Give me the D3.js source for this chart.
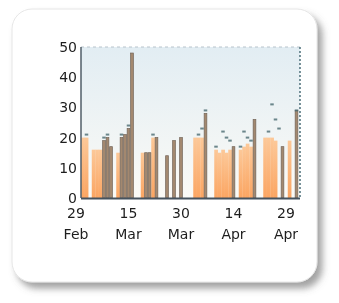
<!DOCTYPE html>
<html>
<head>
<meta charset="utf-8">
<script src="https://cdn.jsdelivr.net/npm/d3@7"></script>
<style>
  html, body { margin: 0; padding: 0; background: #fff; }
  svg { display: block; filter: blur(0.45px); }
  text { font-family: "DejaVu Sans", Verdana, sans-serif; fill: #1e1e1e; }
</style>
</head>
<body>
<div id="chart"></div>
<script>
/* data */
var orangeDays = ["2016-03-02","2016-03-03","2016-03-05","2016-03-06","2016-03-07","2016-03-12",
  "2016-03-19","2016-03-22","2016-04-03","2016-04-04","2016-04-05","2016-04-09","2016-04-10",
  "2016-04-11","2016-04-12","2016-04-13","2016-04-16","2016-04-17","2016-04-18","2016-04-19",
  "2016-04-23","2016-04-24","2016-04-25","2016-04-26","2016-04-30"];
var orangeVals = [20,20,16,16,16,15, 15,20,20,20,20,16,15, 16,15,16,16,17,18,17, 20,20,20,19,19];

var brownDays = ["2016-03-08","2016-03-09","2016-03-10","2016-03-13","2016-03-14","2016-03-15",
  "2016-03-16","2016-03-20","2016-03-21","2016-03-23","2016-03-26","2016-03-28","2016-03-30",
  "2016-04-06","2016-04-14","2016-04-20","2016-04-28","2016-05-02"];
var brownVals = [19,20,17,20,21,23, 48,15,15,20,14,19,20, 28,17,26,17,29];

var markDays = ["2016-03-03","2016-03-08","2016-03-09","2016-03-13","2016-03-15","2016-03-22",
  "2016-04-04","2016-04-05","2016-04-06","2016-04-09","2016-04-11","2016-04-12","2016-04-13",
  "2016-04-16","2016-04-17","2016-04-18","2016-04-19","2016-04-24","2016-04-25","2016-04-26",
  "2016-04-27","2016-05-02"];
var markVals = [21,20,21,21,24,21, 21,23,29,17,22,20,19, 17,22,20,19,22,31,26, 23,29];

var tickDates = ["2016-02-29","2016-03-15","2016-03-30","2016-04-14","2016-04-29"];
var yTicks = [0,10,20,30,40,50];

var W = 339, H = 303;
var plot = { left: 81, right: 300, top: 47, bottom: 198 };
var parse = d3.utcParse("%Y-%m-%d");
var DAY = 864e5;

var svg = d3.select("#chart").append("svg")
  .attr("width", W).attr("height", H);

var defs = svg.append("defs");
var sh = defs.append("filter").attr("id", "shadow")
  .attr("x", "-10%").attr("y", "-10%").attr("width", "130%").attr("height", "130%");
sh.append("feDropShadow").attr("dx", 5).attr("dy", 6).attr("stdDeviation", 3.5)
  .attr("flood-color", "#666").attr("flood-opacity", 0.6);

var bg = defs.append("linearGradient").attr("id", "bg").attr("x1", 0).attr("y1", 0).attr("x2", 0).attr("y2", 1);
bg.append("stop").attr("offset", "0%").attr("stop-color", "#e2edf3");
bg.append("stop").attr("offset", "100%").attr("stop-color", "#fbfaf6");

var og = defs.append("linearGradient").attr("id", "og").attr("x1", 0).attr("y1", 0).attr("x2", 0).attr("y2", 1);
og.append("stop").attr("offset", "0%").attr("stop-color", "#fcc898");
og.append("stop").attr("offset", "100%").attr("stop-color", "#fba562");

/* card */
svg.append("rect")
  .attr("x", 12).attr("y", 9).attr("width", 305).attr("height", 273)
  .attr("rx", 20)
  .attr("fill", "#fff")
  .attr("stroke", "#e6e6e6")
  .attr("filter", "url(#shadow)");

/* scales */
var x = d3.scaleUtc()
  .domain([parse("2016-02-29"), parse("2016-05-03")])
  .range([76, 300]);
var y = d3.scaleLinear().domain([0, 50]).range([plot.bottom, plot.top]);
var dayW = x(new Date(DAY)) - x(new Date(0));

/* plot background */
svg.append("rect")
  .attr("x", plot.left).attr("y", plot.top)
  .attr("width", plot.right - plot.left).attr("height", plot.bottom - plot.top)
  .attr("fill", "url(#bg)");

svg.append("line")
  .attr("x1", plot.left).attr("x2", plot.right)
  .attr("y1", y(50)).attr("y2", y(50))
  .attr("stroke", "#b8c4cc").attr("stroke-dasharray", "3,3");

/* bars */
var orange = orangeDays.map((d, i) => ({ date: parse(d), v: orangeVals[i] }));
var brown = brownDays.map((d, i) => ({ date: parse(d), v: brownVals[i] }));
var marks = markDays.map((d, i) => ({ date: parse(d), v: markVals[i] }));

svg.append("g").selectAll("rect")
  .data(orange).enter().append("rect")
  .attr("x", d => x(d.date) - dayW / 2)
  .attr("width", dayW + 0.2)
  .attr("y", d => y(d.v))
  .attr("height", d => y(0) - y(d.v))
  .attr("fill", "url(#og)");

svg.append("g").selectAll("rect")
  .data(brown).enter().append("rect")
  .attr("x", d => x(d.date) - dayW / 2 + 0.4)
  .attr("width", dayW - 0.8)
  .attr("y", d => y(d.v))
  .attr("height", d => y(0) - y(d.v))
  .attr("fill", "#a3886f")
  .attr("stroke", "#736458")
  .attr("stroke-width", 0.7);

svg.append("g").selectAll("rect")
  .data(marks).enter().append("rect")
  .attr("x", d => x(d.date) - dayW / 2)
  .attr("width", dayW)
  .attr("y", d => y(d.v) - 1)
  .attr("height", 2)
  .attr("fill", "#4a6a70")
  .attr("opacity", 0.8);

/* right dashed edge */
svg.append("line")
  .attr("x1", plot.right).attr("x2", plot.right)
  .attr("y1", plot.top).attr("y2", plot.bottom)
  .attr("stroke", "#4c6f7a").attr("stroke-width", 1.5).attr("stroke-dasharray", "2,2");

/* axes */
svg.append("line")
  .attr("x1", plot.left).attr("x2", plot.left)
  .attr("y1", plot.top).attr("y2", plot.bottom)
  .attr("stroke", "#46535e").attr("stroke-width", 1.4);
svg.append("line")
  .attr("x1", plot.left).attr("x2", plot.right)
  .attr("y1", plot.bottom + 0.5).attr("y2", plot.bottom + 0.5)
  .attr("stroke", "#46535e").attr("stroke-width", 2);

svg.append("g").selectAll("text")
  .data(yTicks).enter().append("text")
  .attr("x", 77)
  .attr("y", d => y(d))
  .attr("dy", "0.35em")
  .attr("text-anchor", "end")
  .style("font-size", "14px")
  .text(d => d);

var fmtDay = d3.utcFormat("%-d"), fmtMon = d3.utcFormat("%b");
var xl = svg.append("g").selectAll("text")
  .data(tickDates.map(parse)).enter().append("text")
  .attr("text-anchor", "middle")
  .style("font-size", "14px");
xl.append("tspan").attr("x", d => x(d)).attr("y", 218).text(d => fmtDay(d));
xl.append("tspan").attr("x", d => x(d)).attr("y", 239).text(d => fmtMon(d));
</script>
</body>
</html>
